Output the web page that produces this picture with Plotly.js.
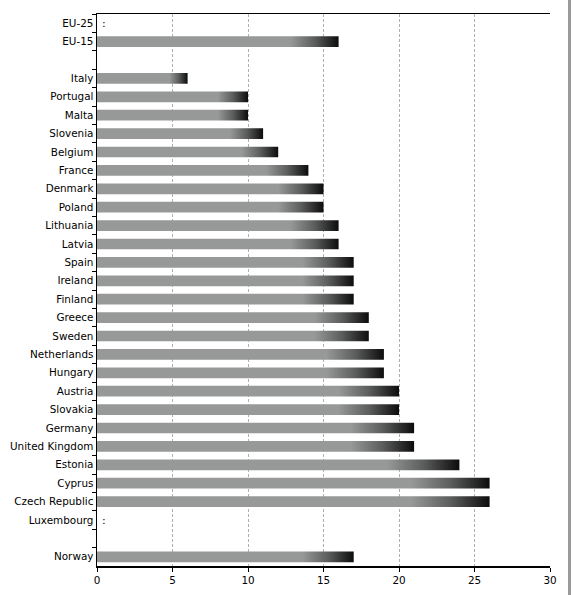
<!DOCTYPE html>
<html>
<head>
<meta charset="utf-8">
<script src="https://cdn.plot.ly/plotly-3.0.1.min.js"></script>
<style>
  html, body { margin: 0; padding: 0; background: #fff; }
  #chart { width: 577px; height: 595px; }
  #edge { position: absolute; left: 568px; top: 0; width: 3px; height: 595px; background: #9a9a9a; }
</style>
</head>
<body>
<div id="chart"></div>
<div id="edge"></div>
<script>
// Categories, top to bottom ("\u200b" entries are empty spacer rows)
const categories = [
  "EU-25", "EU-15", "\u200b",
  "Italy", "Portugal", "Malta", "Slovenia", "Belgium", "France",
  "Denmark", "Poland", "Lithuania", "Latvia", "Spain", "Ireland",
  "Finland", "Greece", "Sweden", "Netherlands", "Hungary", "Austria",
  "Slovakia", "Germany", "United Kingdom", "Estonia", "Cyprus",
  "Czech Republic", "Luxembourg", "\u200b\u200b", "Norway"
];
// Values (null = not available / spacer)
const values = [
  null, 16, null,
  6, 10, 10, 11, 12, 14,
  15, 15, 16, 16, 17, 17,
  17, 18, 18, 19, 19, 20,
  20, 21, 21, 24, 26,
  26, null, null, 17
];
// Categories with missing data shown as ":"
const missing = ["EU-25", "Luxembourg"];
const xTicks = [0, 5, 10, 15, 20, 25, 30];

const trace = {
  type: "bar",
  orientation: "h",
  y: categories,
  x: values,
  marker: { color: "#969998", line: { width: 0 } },
  hoverinfo: "none"
};

const annotations = missing.map(c => ({
  x: 0, y: c, xref: "x", yref: "y",
  text: ":", showarrow: false, xanchor: "left", xshift: 3,
  font: { family: "DejaVu Sans, Verdana, sans-serif", size: 11, color: "#000" }
}));

const layout = {
  width: 577, height: 595,
  margin: { l: 97, r: 27, t: 14, b: 29 },
  paper_bgcolor: "#fff",
  plot_bgcolor: "#fff",
  bargap: 0.42,
  showlegend: false,
  font: { family: "DejaVu Sans, Verdana, sans-serif", size: 10.4, color: "#000" },
  xaxis: {
    range: [0, 30],
    tickvals: xTicks,
    ticktext: xTicks.map(String),
    showline: true, linecolor: "#000", linewidth: 1.5, mirror: true,
    ticks: "outside", ticklen: 4, tickcolor: "#000", tickwidth: 1,
    showgrid: true, gridcolor: "#b0b0b0", gridwidth: 1, griddash: "3px,2px",
    zeroline: false,
    tickfont: { size: 10.4 }
  },
  yaxis: {
    type: "category",
    categoryorder: "array",
    categoryarray: categories,
    autorange: "reversed",
    showline: true, linecolor: "#000", linewidth: 1.5,
    ticks: "outside", ticklen: 4, tickcolor: "#000", tickwidth: 1,
    tickson: "boundaries",
    showgrid: false, zeroline: false,
    tickfont: { size: 10.4 }
  },
  annotations: annotations
};

Plotly.newPlot("chart", [trace], layout, { staticPlot: true, displayModeBar: false }).then(gd => {
  const svg = gd.querySelector("svg.main-svg");
  const NS = "http://www.w3.org/2000/svg";
  let defs = svg.querySelector("defs");
  if (!defs) { defs = document.createElementNS(NS, "defs"); svg.insertBefore(defs, svg.firstChild); }
  const grad = document.createElementNS(NS, "linearGradient");
  grad.setAttribute("id", "barGrad");
  grad.setAttribute("x1", "0"); grad.setAttribute("x2", "1");
  grad.setAttribute("y1", "0"); grad.setAttribute("y2", "0");
  [["0", "#969998"], ["0.80", "#969998"], ["0.90", "#5c5d5d"], ["1", "#0c0c0c"]].forEach(([o, c]) => {
    const s = document.createElementNS(NS, "stop");
    s.setAttribute("offset", o); s.setAttribute("stop-color", c);
    grad.appendChild(s);
  });
  defs.appendChild(grad);
  gd.querySelectorAll(".bars .point path").forEach(p => { p.style.fill = "url(#barGrad)"; });
});
</script>
</body>
</html>
